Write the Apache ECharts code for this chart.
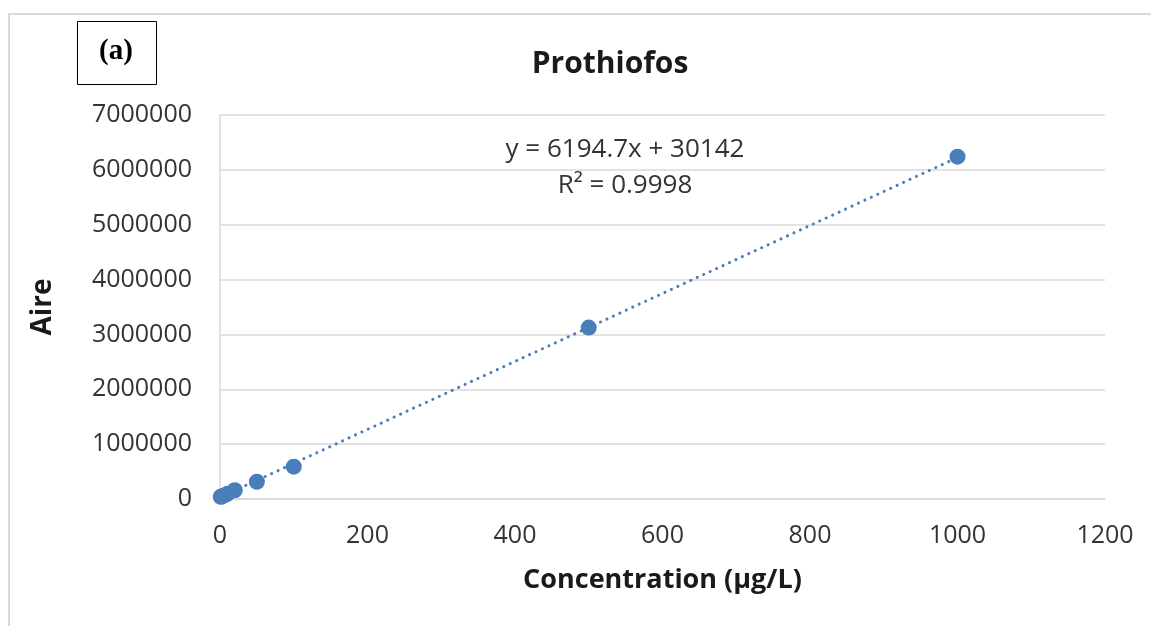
<!DOCTYPE html>
<html>
<head>
<meta charset="utf-8">
<script src="https://cdn.jsdelivr.net/npm/echarts@6/dist/echarts.min.js"></script>
<style>
  html, body { margin: 0; padding: 0; background: #fff; }
  #chart { width: 1151px; height: 626px; }
</style>
</head>
<body>
<div id="chart"></div>
<script>
// Calibration standards: concentration (µg/L) and measured peak area
const concentrations = [1, 2, 5, 10, 20, 50, 100, 500, 1000];
const areas = [40000, 46000, 62000, 95000, 160000, 315000, 590000, 3125000, 6240000];

// Linear fit reported on the chart
const slope = 6194.7;
const intercept = 30142;
const rSquared = '0.9998';
const fitRange = [0, 1000];

const chartTitle = 'Prothiofos';
const panelTag = '(a)';
const xName = 'Concentration (µg/L)';
const yName = 'Aire';

const points = concentrations.map((c, i) => [c, areas[i]]);
const fitLine = fitRange.map(x => [x, slope * x + intercept]);

const blue = '#4a7ebb';
const font = 'Open Sans';
const textColor = '#333333';
const plain = v => String(v);

const chart = echarts.init(document.getElementById('chart'), null, { renderer: 'canvas' });

chart.setOption({
  backgroundColor: '#ffffff',
  animation: false,
  title: {
    text: chartTitle,
    left: 605,
    top: 44,
    textAlign: 'center',
    textStyle: { fontFamily: font, fontWeight: 'bold', fontSize: 30, color: '#1a1a1a' }
  },
  grid: { left: 220, right: 46, top: 115, bottom: 127, containLabel: false },
  xAxis: {
    type: 'value',
    min: 0,
    max: 1200,
    interval: 200,
    name: xName,
    nameLocation: 'middle',
    nameGap: 68,
    nameTextStyle: { fontFamily: font, fontWeight: 'bold', fontSize: 27, color: '#1a1a1a' },
    axisLine: { show: true, lineStyle: { color: '#d9d9d9', width: 1.5 } },
    axisTick: { show: false },
    splitLine: { show: false },
    axisLabel: { fontFamily: font, fontSize: 25, color: textColor, margin: 24, formatter: plain }
  },
  yAxis: {
    type: 'value',
    min: 0,
    max: 7000000,
    interval: 1000000,
    name: yName,
    nameLocation: 'middle',
    nameGap: 163,
    nameRotate: 90,
    nameTextStyle: { fontFamily: font, fontWeight: 'bold', fontSize: 28, color: '#1a1a1a' },
    axisLine: { show: true, lineStyle: { color: '#d9d9d9', width: 1.5 } },
    axisTick: { show: false },
    splitLine: { show: true, lineStyle: { color: '#d9d9d9', width: 1.5 } },
    axisLabel: { fontFamily: font, fontSize: 25, color: textColor, margin: 28, formatter: plain }
  },
  series: [
    {
      name: 'fit',
      type: 'line',
      data: fitLine,
      symbol: 'none',
      z: 2,
      lineStyle: { color: blue, width: 3, type: [0.1, 7], cap: 'round' },
      silent: true
    },
    {
      name: 'standards',
      type: 'scatter',
      data: points,
      symbol: 'circle',
      symbolSize: 16,
      z: 3,
      itemStyle: { color: blue, opacity: 1 }
    }
  ],
  graphic: [
    // outer frame (top and left edges)
    {
      type: 'polyline',
      shape: { points: [[9, 626], [9, 14], [1151, 14]] },
      style: { stroke: '#d9d9d9', lineWidth: 2, fill: null },
      silent: true
    },
    // panel tag box
    {
      type: 'rect',
      shape: { x: 77.5, y: 21.5, width: 79, height: 63 },
      style: { stroke: '#000', lineWidth: 1, fill: '#fff' },
      silent: true
    },
    {
      type: 'text',
      x: 116,
      y: 52,
      style: {
        text: panelTag,
        font: 'bold 29px "Liberation Serif", "DejaVu Serif", serif',
        fill: '#000',
        align: 'center',
        verticalAlign: 'middle'
      },
      silent: true
    },
    // regression equation and coefficient of determination
    {
      type: 'text',
      x: 625,
      y: 150,
      style: {
        text: 'y = ' + slope + 'x + ' + intercept,
        font: '26px "Open Sans"',
        fill: textColor,
        align: 'center',
        verticalAlign: 'middle'
      },
      silent: true
    },
    {
      type: 'text',
      x: 625,
      y: 186,
      style: {
        text: 'R² = ' + rSquared,
        font: '26px "Open Sans"',
        fill: textColor,
        align: 'center',
        verticalAlign: 'middle'
      },
      silent: true
    }
  ]
});
</script>
</body>
</html>
